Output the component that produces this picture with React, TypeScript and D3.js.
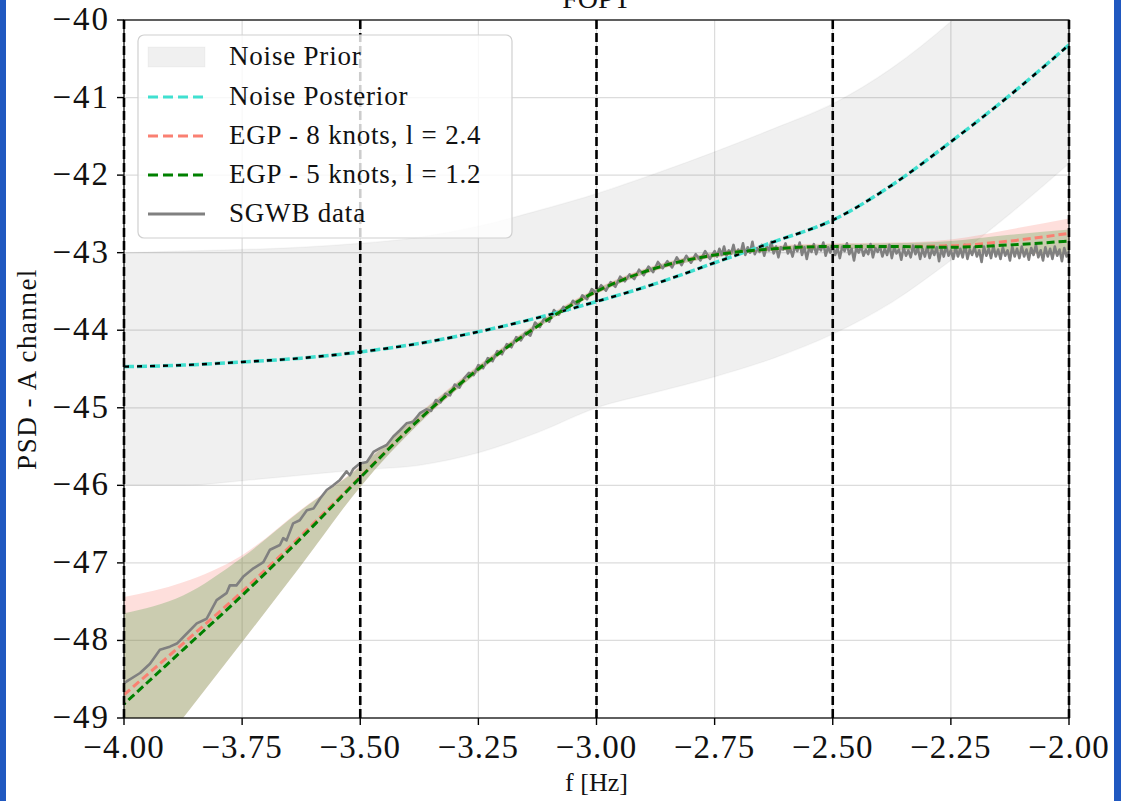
import React from "react";
import * as d3 from "d3";

const W = 1121;
const H = 801;

// frequency knots (log10 f) shared by the smooth curves and bands
const knotF = [-4, -3.875, -3.75, -3.625, -3.5, -3.375, -3.25, -3.125, -3, -2.875, -2.75, -2.625, -2.5, -2.375, -2.25, -2.125, -2];

const priorUpper = [-43.0, -42.98, -42.96, -42.93, -42.88, -42.8, -42.66, -42.46, -42.24, -41.98, -41.7, -41.4, -41.08, -40.62, -40.02, -39.3, -38.5];
const priorLower = [-46.0, -46.0, -45.94, -45.87, -45.8, -45.74, -45.58, -45.32, -45.0, -44.8, -44.6, -44.36, -44.05, -43.64, -43.1, -42.5, -41.85];

const noisePosterior = [-44.47, -44.45, -44.41, -44.36, -44.28, -44.17, -44.02, -43.84, -43.63, -43.4, -43.13, -42.86, -42.58, -42.13, -41.57, -40.97, -40.32];

const egp8Mean = [-48.7, -48.04, -47.37, -46.65, -45.89, -45.15, -44.5, -43.95, -43.5, -43.2, -43.03, -42.95, -42.92, -42.92, -42.91, -42.85, -42.75];
const egp8Upper = [-47.44, -47.25, -46.9, -46.31, -45.75, -45.07, -44.45, -43.9, -43.46, -43.16, -42.99, -42.91, -42.88, -42.87, -42.83, -42.7, -42.56];
const egp8Lower = [-50.0, -49.0, -48.02, -47.03, -46.02, -45.2, -44.54, -43.97, -43.53, -43.23, -43.06, -42.98, -42.95, -42.96, -42.99, -43.01, -43.03];

const egp5Mean = [-48.82, -48.12, -47.42, -46.68, -45.9, -45.15, -44.5, -43.95, -43.5, -43.2, -43.03, -42.95, -42.92, -42.92, -42.93, -42.9, -42.85];
const egp5Upper = [-47.65, -47.42, -46.93, -46.32, -45.76, -45.08, -44.46, -43.91, -43.47, -43.17, -43.0, -42.92, -42.89, -42.88, -42.85, -42.77, -42.7];
const egp5Lower = [-50.0, -49.0, -48.02, -47.03, -46.02, -45.2, -44.54, -43.97, -43.53, -43.23, -43.06, -42.98, -42.95, -42.96, -42.98, -43.0, -43.02];

// SGWB data, low-frequency stretch (f, PSD)
const sgwbLowF = [-4.0, -3.966, -3.945, -3.924, -3.903, -3.888, -3.867, -3.846, -3.825, -3.804, -3.783, -3.776, -3.762, -3.748, -3.726, -3.705, -3.691, -3.67, -3.663, -3.656, -3.642, -3.628, -3.613, -3.599, -3.585, -3.571, -3.557, -3.543, -3.529, -3.522, -3.515, -3.501, -3.486, -3.472, -3.458, -3.444, -3.43, -3.416, -3.402, -3.388, -3.374];
const sgwbLowV = [-48.55, -48.42, -48.3, -48.12, -48.08, -48.04, -47.91, -47.78, -47.72, -47.48, -47.39, -47.29, -47.29, -47.18, -47.07, -46.99, -46.83, -46.77, -46.68, -46.71, -46.49, -46.45, -46.32, -46.3, -46.17, -46.06, -46.0, -45.93, -45.82, -45.87, -45.79, -45.72, -45.7, -45.57, -45.52, -45.48, -45.37, -45.29, -45.2, -45.18, -45.07];

// SGWB data, -3.36 .. -2.76 every 0.01
const sgwbMidStart = -3.36;
const sgwbMidStep = 0.01;
const sgwbMidV = [
  -45.02, -45.04, -44.9, -44.93, -44.82, -44.84, -44.7, -44.74, -44.62, -44.55,
  -44.58, -44.45, -44.49, -44.36, -44.4, -44.27, -44.31, -44.18, -44.22, -44.09,
  -44.13, -44.03, -44.07, -43.9, -43.96, -43.84, -43.89, -43.74, -43.8, -43.7,
  -43.74, -43.62, -43.68, -43.55, -43.6, -43.47, -43.52, -43.42, -43.49, -43.38,
  -43.44, -43.31, -43.37, -43.28, -43.34, -43.22, -43.29, -43.18, -43.25, -43.12,
  -43.2, -43.11, -43.19, -43.06, -43.16, -43.04, -43.13, -43.02, -43.1, -42.98,
  -43.08,
];

// SGWB data, -2.75 .. -2.00 every 0.005
const sgwbHighStart = -2.75;
const sgwbHighStep = 0.005;
const sgwbHighV = [
  -42.98, -43.05, -42.95, -43.03, -42.92, -43.04, -42.97, -43.01, -42.9, -43.04,
  -42.96, -43.01, -42.88, -43.03, -42.93, -43.0, -42.86, -43.02, -42.94, -42.99,
  -42.9, -43.04, -42.92, -42.97, -42.86, -43.01, -42.92, -43.06, -42.93, -42.96,
  -42.88, -43.01, -42.95, -43.05, -42.91, -42.98, -42.87, -43.03, -42.93, -43.08,
  -42.94, -42.99, -42.89, -43.02, -42.92, -42.97, -42.87, -43.04, -42.93, -43.0,
  -42.9, -43.03, -42.94, -43.07, -42.92, -42.98, -42.88, -43.02, -42.95, -43.1,
  -42.93, -43.0, -42.91, -43.04, -42.96, -43.02, -42.89, -43.06, -42.94, -42.99,
  -42.92, -43.05, -42.95, -43.03, -42.9, -43.07, -42.93, -43.01, -42.96, -43.09,
  -42.93, -43.04, -42.97, -43.06, -42.91, -43.02, -42.94, -43.08, -42.95, -43.05,
  -42.92, -43.07, -42.96, -43.03, -42.93, -43.11, -42.95, -43.05, -42.91, -43.04,
  -42.97, -43.08, -42.93, -43.05, -42.95, -43.06, -42.9, -43.08, -42.96, -43.03,
  -42.93, -43.05, -42.97, -43.12, -42.92, -43.04, -42.95, -43.07, -42.91, -43.05,
  -42.96, -43.08, -42.93, -43.04, -42.97, -43.1, -42.92, -43.05, -42.95, -43.07,
  -42.92, -43.05, -42.96, -43.09, -42.94, -43.03, -42.9, -43.06, -42.97, -43.1,
  -42.93, -43.05, -42.95, -43.08, -42.92, -43.04, -42.96, -43.11, -42.94, -43.05,
  -42.98,
];

// segment boundaries (vertical dashed markers)
const segmentF = [-4, -3.5, -3, -2.5, -2];

const xTicks = [-4, -3.75, -3.5, -3.25, -3, -2.75, -2.5, -2.25, -2];
const yTicks = [-40, -41, -42, -43, -44, -45, -46, -47, -48, -49];

const legendLabels = ["Noise Prior", "Noise Posterior", "EGP - 8 knots, l = 2.4", "EGP - 5 knots, l = 1.2", "SGWB data"];

const FONT = "'Liberation Serif', 'DejaVu Serif', serif";
const fmt = (v: number, d: number) => (v < 0 ? "\u2212" : "") + Math.abs(v).toFixed(d);

export default function App() {
  const x = d3.scaleLinear().domain([-4, -2]).range([124, 1069]);
  const y = d3.scaleLinear().domain([-49, -40]).range([718, 20]);
  const [x0, x1] = x.range();
  const [y0, y1] = [y(-40), y(-49)];

  const pts = (vals: number[]) => knotF.map((f, i) => [f, vals[i]] as [number, number]);
  const line = d3.line<[number, number]>().x((d) => x(d[0])).y((d) => y(d[1])).curve(d3.curveMonotoneX);
  const band = (lo: number[], hi: number[]) =>
    d3
      .area<number>()
      .x((_, i) => x(knotF[i]))
      .y0((_, i) => y(lo[i]))
      .y1((_, i) => y(hi[i]))
      .curve(d3.curveMonotoneX)(knotF.map((_, i) => i)) as string;

  const sgwb: [number, number][] = [
    ...sgwbLowF.map((f, i) => [f, sgwbLowV[i]] as [number, number]),
    ...sgwbMidV.map((v, i) => [sgwbMidStart + i * sgwbMidStep, v] as [number, number]),
    ...sgwbHighV.map((v, i) => [sgwbHighStart + i * sgwbHighStep, v] as [number, number]),
  ];
  const rawLine = d3.line<[number, number]>().x((d) => x(d[0])).y((d) => y(d[1]));

  const legX = 138, legY = 35, legW = 374, legH = 203;
  const rowY = [57, 97, 136, 175, 214];

  return (
    <svg width={W} height={H} style={{ position: "absolute", left: 0, top: 0, background: "#fff" }}>
      <defs>
        <clipPath id="plotArea">
          <rect x={x0} y={y0} width={x1 - x0} height={y1 - y0} />
        </clipPath>
      </defs>
      <rect x={0} y={0} width={W} height={H} fill="#fff" />

      {/* grid */}
      <g stroke="#dcdcdc" strokeWidth={1.2}>
        {xTicks.map((t) => (
          <line key={"gx" + t} x1={x(t)} x2={x(t)} y1={y0} y2={y1} />
        ))}
        {yTicks.map((t) => (
          <line key={"gy" + t} x1={x0} x2={x1} y1={y(t)} y2={y(t)} />
        ))}
      </g>

      <g clipPath="url(#plotArea)">
        {/* noise prior */}
        <path d={band(priorLower, priorUpper)} fill="#000" fillOpacity={0.06} stroke="#000" strokeOpacity={0.03} strokeWidth={1.5} />
        {/* EGP credible bands */}
        <path d={band(egp8Lower, egp8Upper)} fill="#fa8072" fillOpacity={0.25} />
        <path d={band(egp5Lower, egp5Upper)} fill="#008000" fillOpacity={0.2} />
        {/* SGWB data */}
        <path d={rawLine(sgwb) as string} fill="none" stroke="#808080" strokeWidth={2.6} strokeLinejoin="round" />
        {/* noise posterior and injected noise */}
        <path d={line(pts(noisePosterior)) as string} fill="none" stroke="#40e0d0" strokeWidth={3.5} strokeDasharray="10,3" />
        <path d={line(pts(noisePosterior)) as string} fill="none" stroke="#000" strokeWidth={2.4} strokeDasharray="5,8" />
        {/* EGP reconstructions */}
        <path d={line(pts(egp8Mean)) as string} fill="none" stroke="#fa8072" strokeWidth={3} strokeDasharray="8,4" />
        <path d={line(pts(egp5Mean)) as string} fill="none" stroke="#008000" strokeWidth={3} strokeDasharray="8,4" strokeDashoffset={6} />
      </g>

      {/* axes frame */}
      <rect x={x0} y={y0} width={x1 - x0} height={y1 - y0} fill="none" stroke="#000" strokeWidth={1.2} />

      {/* segment markers */}
      <g stroke="#000" strokeWidth={2.6} strokeDasharray="9,4">
        {segmentF.map((f) => (
          <line key={"s" + f} x1={x(f)} x2={x(f)} y1={y0} y2={y1} />
        ))}
      </g>

      {/* ticks */}
      <g stroke="#000" strokeWidth={1.4}>
        {xTicks.map((t) => (
          <line key={"tx" + t} x1={x(t)} x2={x(t)} y1={y1} y2={y1 + 7} />
        ))}
        {yTicks.map((t) => (
          <line key={"ty" + t} x1={x0 - 7} x2={x0} y1={y(t)} y2={y(t)} />
        ))}
      </g>
      <g fontFamily={FONT} fontSize={33} fill="#111">
        {xTicks.map((t) => (
          <text key={"lx" + t} x={x(t)} y={758} textAnchor="middle" letterSpacing={1}>
            {fmt(t, 2)}
          </text>
        ))}
        {yTicks.map((t) => (
          <text key={"ly" + t} x={110} y={y(t) + 10} textAnchor="end" letterSpacing={2}>
            {fmt(t, 0)}
          </text>
        ))}
      </g>

      {/* axis labels and title */}
      <text x={(x0 + x1) / 2} y={791} textAnchor="middle" fontFamily={FONT} fontSize={26} fill="#111">
        f [Hz]
      </text>
      <text
        transform={`translate(36, ${(y0 + y1) / 2}) rotate(-90)`}
        textAnchor="middle"
        fontFamily={FONT}
        fontSize={27}
        letterSpacing={1.5}
        fill="#111"
      >
        PSD - A channel
      </text>
      <text x={(x0 + x1) / 2} y={8} textAnchor="middle" fontFamily={FONT} fontSize={28} fill="#111">
        FOPT
      </text>

      {/* legend */}
      <g>
        <rect x={legX} y={legY} width={legW} height={legH} rx={6} fill="#fff" fillOpacity={0.8} stroke="#d0d0d0" strokeWidth={1.2} />
        <rect x={148} y={rowY[0] - 10} width={57} height={20} fill="#000" fillOpacity={0.06} stroke="#000" strokeOpacity={0.03} />
        <line x1={148} x2={205} y1={rowY[1]} y2={rowY[1]} stroke="#40e0d0" strokeWidth={3} strokeDasharray="10,5" />
        <line x1={148} x2={205} y1={rowY[2]} y2={rowY[2]} stroke="#fa8072" strokeWidth={3} strokeDasharray="10,5" />
        <line x1={148} x2={205} y1={rowY[3]} y2={rowY[3]} stroke="#008000" strokeWidth={3} strokeDasharray="10,5" />
        <line x1={148} x2={205} y1={rowY[4]} y2={rowY[4]} stroke="#808080" strokeWidth={3} />
        {legendLabels.map((lab, i) => (
          <text key={lab} x={229} y={rowY[i] + 8} fontFamily={FONT} fontSize={27} letterSpacing={0.8} fill="#111">
            {lab}
          </text>
        ))}
      </g>

      {/* page frame */}
      <rect x={0} y={0} width={6} height={H} fill="#2058c0" />
      <rect x={1114} y={0} width={7} height={H} fill="#2058c0" />
    </svg>
  );
}
